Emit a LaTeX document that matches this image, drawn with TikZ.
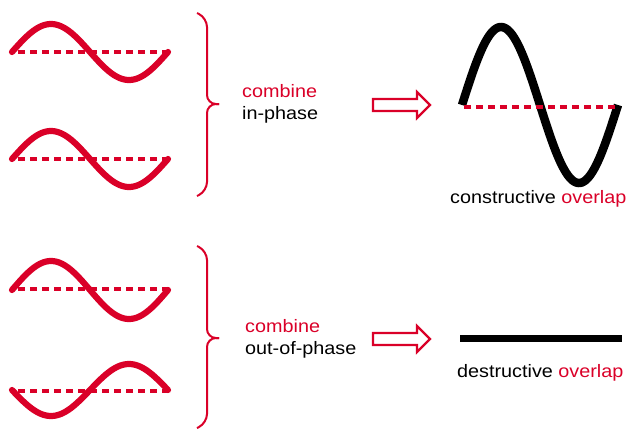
\documentclass[tikz,border=0pt]{standalone}
\usepackage{fontspec}
\setmainfont{Liberation Sans}[FakeStretch=1.1]
\definecolor{wred}{RGB}{218,0,40}
\tikzset{
  wave/.style={wred,line width=6.2pt,line cap=round},
  bwave/.style={black,line width=8.5pt},
  axisline/.style={wred,line width=3.2pt,dash pattern=on 7pt off 5pt},
  brace/.style={wred,line width=2pt,rounded corners=9pt},
  hollowarrow/.style={wred,line width=2.2pt,fill=white,line join=miter},
  lbl/.style={inner sep=0pt,anchor=base west,font=\fontsize{18}{22}\selectfont},
}
\begin{document}
\begin{tikzpicture}[x=1pt,y=-1pt]
\useasboundingbox (0,0) rectangle (627,429);
% ---- top group
\draw[axisline] (18,52) -- (168,52);
\draw[wave] plot[domain=12:168,samples=80,smooth] (\x,{52-28*sin((\x-12)/156*360)});
\draw[axisline] (18,159) -- (168,159);
\draw[wave] plot[domain=12:168,samples=80,smooth] (\x,{159-28*sin((\x-12)/156*360)});
\draw[brace] (197,13) -- (207,18) -- (207,104) -- (219,104);
\draw[brace] (197,196) -- (207,191) -- (207,104) -- (219,104);
\node[lbl,wred] (c1) at (242,97) {combine};
\node[lbl] (p1) at (242,119) {in-phase};
\draw[hollowarrow] (373,99) -- (417,99) -- (417,92) -- (430,105) -- (417,118) -- (417,111) -- (373,111) -- cycle;
\draw[bwave] plot[domain=462:618,samples=100,smooth] (\x,{105-78*sin((\x-462)/156*360)});
\draw[axisline] (464,107) -- (618,107);
\node[lbl] (t1) at (450,203) {constructive \textcolor{wred}{overlap}};
% ---- bottom group
\draw[axisline] (18,289) -- (168,289);
\draw[wave] plot[domain=12:168,samples=80,smooth] (\x,{290-29*sin((\x-12)/156*360)});
\draw[axisline] (18,391) -- (168,391);
\draw[wave] plot[domain=12:168,samples=80,smooth] (\x,{390+26*sin((\x-12)/156*360)});
\draw[brace] (197,246) -- (207,251) -- (207,338) -- (219,338);
\draw[brace] (197,428) -- (207,423) -- (207,338) -- (219,338);
\node[lbl,wred] (c2) at (245,332) {combine};
\node[lbl] (p2) at (245,354) {out-of-phase};
\draw[hollowarrow] (373,333) -- (417,333) -- (417,326) -- (430,339) -- (417,352) -- (417,345) -- (373,345) -- cycle;
\draw[black,line width=7pt] (460,338) -- (622,338);
\node[lbl] (t2) at (457,377) {destructive \textcolor{wred}{overlap}};
\end{tikzpicture}
\end{document}
